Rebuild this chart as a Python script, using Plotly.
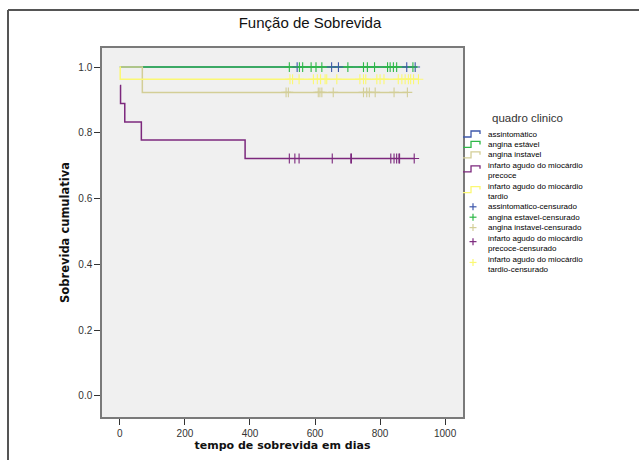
import plotly.graph_objects as go

# ---- data ----
groups = ["assintomático", "angina estável", "angina instavel",
          "infarto agudo do miocárdio<br>precoce", "infarto agudo do miocárdio<br>tardio"]
censor_names = ["assintomatico-censurado", "angina estavel-censurado", "angina instavel-censurado",
                "infarto agudo do miocárdio<br>precoce-censurado", "infarto agudo do miocárdio<br>tardio-censurado"]
colors = ["#3E58AC", "#2EB848", "#D3CE97", "#7C287D", "#FBF873"]

# step curves (time, survival)
t_assint = [0, 913]
s_assint = [1.0, 1.0]
t_estavel = [0, 913]
s_estavel = [1.0, 1.0]
t_instavel = [0, 69, 884]
s_instavel = [1.0, 0.923, 0.923]
t_precoce = [0, 2, 15, 66, 385, 905]
s_precoce = [0.944, 0.889, 0.833, 0.778, 0.722, 0.722]
t_tardio = [0, 1, 918]
s_tardio = [1.0, 0.963, 0.963]

# censored times
c_assint = [545, 651, 672, 882, 908]
c_estavel = [521, 552, 562, 588, 603, 621, 701, 749, 761, 783, 823, 831, 841, 851, 901]
c_instavel = [511, 518, 610, 615, 621, 656, 749, 759, 767, 785, 843, 884]
c_precoce = [521, 538, 551, 653, 710, 712, 833, 843, 851, 858, 860, 905]
c_tardio = [523, 531, 551, 595, 607, 617, 631, 636, 667, 738, 749, 756, 790, 800, 812,
            856, 867, 877, 887, 894, 903, 918]
cs_assint, cs_estavel, cs_instavel, cs_precoce, cs_tardio = 1.0, 1.0, 0.923, 0.722, 0.963

curves = [(t_assint, s_assint), (t_estavel, s_estavel), (t_instavel, s_instavel),
          (t_precoce, s_precoce), (t_tardio, s_tardio)]
censors = [(c_assint, cs_assint), (c_estavel, cs_estavel), (c_instavel, cs_instavel),
           (c_precoce, cs_precoce), (c_tardio, cs_tardio)]

W, H = 639, 460
ML, MR, MT, MB = 102, 176, 48, 43
PW, PH = W - ML - MR, H - MT - MB


def px(x):
    return (x - ML) / PW


def py(y):
    return (H - MB - y) / PH


fig = go.Figure()
for i in range(5):
    t, s = curves[i]
    fig.add_trace(go.Scatter(x=t, y=s, mode="lines", line=dict(color=colors[i], width=1.5, shape="hv"),
                             name=groups[i], showlegend=False))
for i in range(5):
    c, sv = censors[i]
    fig.add_trace(go.Scatter(x=c, y=[sv] * len(c), mode="markers",
                             marker=dict(symbol="cross-thin", size=7, line=dict(color=colors[i], width=1.1)),
                             name=censor_names[i], showlegend=False))

# ---- custom compact legend (SPSS style) ----
shapes = []
annotations = []
annotations.append(dict(text="quadro clinico", x=px(490), y=py(118), xref="paper", yref="paper",
                        xanchor="left", yanchor="middle", showarrow=False,
                        font=dict(size=11.5, color="#333")))
entries = [(n, "line", c) for n, c in zip(groups, colors)] + \
          [(n, "cross", c) for n, c in zip(censor_names, colors)]
LEG_FONT = 8
P = LEG_FONT * 1.3
yc = 134.0
for name, kind, col in entries:
    nl = len(name.split("<br>"))
    mid = yc + (nl - 1) * P / 2
    sym_y = yc + 0.35 * P * (nl - 1)
    if kind == "line":
        path = "M {:.4f},{:.4f} L {:.4f},{:.4f} L {:.4f},{:.4f} L {:.4f},{:.4f} L {:.4f},{:.4f}".format(
            px(463), py(sym_y + 3), px(471), py(sym_y + 3), px(471), py(sym_y - 3),
            px(480), py(sym_y - 3), px(480), py(sym_y))
        shapes.append(dict(type="path", xref="paper", yref="paper", path=path,
                           line=dict(color=col, width=1.3)))
    else:
        shapes.append(dict(type="line", xref="paper", yref="paper", x0=px(469.5), x1=px(476.5),
                           y0=py(sym_y), y1=py(sym_y), line=dict(color=col, width=1.2)))
        shapes.append(dict(type="line", xref="paper", yref="paper", x0=px(473), x1=px(473),
                           y0=py(sym_y - 3.5), y1=py(sym_y + 3.5), line=dict(color=col, width=1.2)))
    annotations.append(dict(text=name, x=px(486), y=py(mid), xref="paper", yref="paper",
                            xanchor="left", yanchor="middle", align="left", showarrow=False,
                            font=dict(size=LEG_FONT, color="#000")))
    yc = yc + P * nl

# outer frame (SPSS chart border)
shapes.append(dict(type="line", xref="paper", yref="paper", x0=px(8), x1=px(700), y0=py(10), y1=py(10),
                   line=dict(color="#555", width=2)))
shapes.append(dict(type="line", xref="paper", yref="paper", x0=px(8), x1=px(8), y0=py(10), y1=py(520),
                   line=dict(color="#555", width=2)))

fig.update_layout(
    width=W, height=H,
    margin=dict(l=ML, r=MR, t=MT, b=MB),
    paper_bgcolor="white", plot_bgcolor="#F0F0F0",
    font=dict(family="Liberation Sans, Arial", color="#222"),
    title=dict(text="Função de Sobrevida", x=310 / W, xref="container", xanchor="center",
               y=1 - 23 / H, yref="container", yanchor="middle",
               font=dict(size=15, color="#111")),
    showlegend=False,
    shapes=shapes,
    annotations=annotations,
    xaxis=dict(range=[-55, 1055], tickvals=[0, 200, 400, 600, 800, 1000], showgrid=False, zeroline=False,
               automargin=False,
               ticks="outside", ticklen=6, tickcolor="#333", tickfont=dict(size=10, color="#333"),
               showline=True, linecolor="#7a7a7a", linewidth=1.5, mirror=True,
               title=dict(text="tempo de sobrevida em dias", standoff=2,
                          font=dict(family="DejaVu Sans", size=11, color="#111", weight="bold"))),
    yaxis=dict(range=[-0.064, 1.058], tickvals=[0, 0.2, 0.4, 0.6, 0.8, 1.0], tickformat=".1f",
               showgrid=False, zeroline=False, automargin=False,
               ticks="outside", ticklen=6, tickcolor="#333", tickfont=dict(size=10, color="#333"),
               showline=True, linecolor="#7a7a7a", linewidth=1.5, mirror=True,
               title=dict(text="Sobrevida cumulativa", standoff=6,
                          font=dict(family="DejaVu Sans", size=11.5, color="#111", weight="bold"))),
)

fig.write_html("out.html", config={"displayModeBar": False},
               post_script="document.body.style.margin='0px';document.body.style.overflow='hidden';")
